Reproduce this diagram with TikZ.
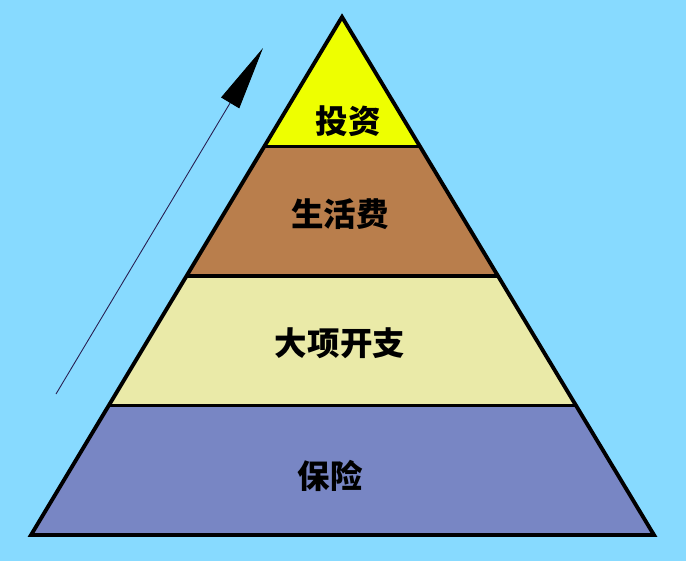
\documentclass[tikz,border=0pt]{standalone}
\usepackage{fontspec}
\newfontfamily\cjk{Noto Sans CJK SC}
\usetikzlibrary{arrows.meta,calc}
\definecolor{fond}{RGB}{135,218,255}
\definecolor{jaune}{RGB}{238,255,0}
\definecolor{brun}{RGB}{185,126,76}
\definecolor{creme}{RGB}{234,234,168}
\definecolor{bleuv}{RGB}{120,134,196}
\definecolor{fleche}{RGB}{40,30,80}

\begin{document}
\begin{tikzpicture}[x=0.02cm,y=-0.02cm,
    etage/.style={font=\cjk\bfseries\fontsize{18.5}{20}\selectfont,text=black}]
      \fill[fond](0,0) rectangle (686,561);
      \useasboundingbox (0,0) rectangle (686,561);
      % sommet et base
      \coordinate (s) at (342,17);
      \coordinate (bg) at (31,535);
      \coordinate (bd) at (654,535);
      % etages
      \foreach \a/\b/\c in {0/0.25/jaune,0.25/0.5/brun,0.5/0.75/creme,0.75/1/bleuv}
        \fill[\c]($(s)!\a!(bg)$)--($(s)!\b!(bg)$)--($(s)!\b!(bd)$)--($(s)!\a!(bd)$)--cycle;
      \foreach \a in {0.25,0.5,0.75}
        \draw[line width=2.2pt]($(s)!\a!(bg)$)--($(s)!\a!(bd)$);
      \draw[line width=2.2pt,line join=miter](s)--(bg)--(bd)--cycle;
      \node[etage] (invest) at (348,121) {投资};
      \node[etage] (vie) at (340,214) {生活费};
      \node[etage] (gros) at (340,343) {大项开支};
      \node[etage] (assur) at (330,476) {保险};
      % fleche
      \coordinate (pied) at (56,394);
      \coordinate (pointe) at (263,48);
      \draw[-{Triangle[length=1.28cm,width=0.42cm,color=black]},fleche,line width=0.5pt](pied)--(pointe);
    \end{tikzpicture}
\end{document}
